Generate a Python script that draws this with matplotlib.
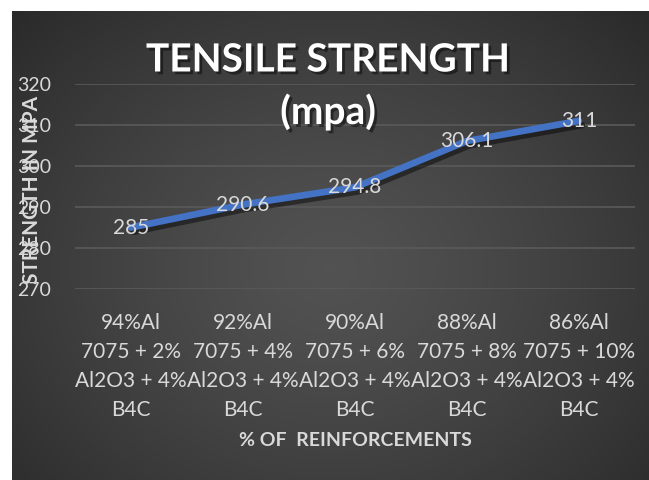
import numpy as np
import matplotlib
matplotlib.use("Agg")
import matplotlib.pyplot as plt
import matplotlib.patheffects as pe
from matplotlib.colors import LinearSegmentedColormap

# ---- data ----
categories = [
    "94%Al\n7075 + 2%\nAl2O3 + 4%\nB4C",
    "92%Al\n7075 + 4%\nAl2O3 + 4%\nB4C",
    "90%Al\n7075 + 6%\nAl2O3 + 4%\nB4C",
    "88%Al\n7075 + 8%\nAl2O3 + 4%\nB4C",
    "86%Al\n7075 + 10%\nAl2O3 + 4%\nB4C",
]
strength = [285, 290.6, 294.8, 306.1, 311]
data_labels = ["285", "290.6", "294.8", "306.1", "311"]
yticks = [270, 280, 290, 300, 310, 320]

title_line1 = "TENSILE STRENGTH"
title_line2 = "(mpa)"
xlabel = "% OF  REINFORCEMENTS"
ylabel = "STRENGTH IN MPA"

FONT = "Lato"
plt.rcParams["font.family"] = [FONT, "DejaVu Sans"]

W, H = 649, 480
fig = plt.figure(figsize=(W / 100, H / 100), dpi=100)
fig.patch.set_facecolor("white")

# background panel with radial gradient
bg = fig.add_axes([12 / W, 0, 1 - 12 / W, 1 - 11 / H])
yy, xx = np.mgrid[0:1:300j, 0:1:400j]
r = np.sqrt(((xx - 0.5) / 0.75) ** 2 + ((yy - 0.45) / 0.85) ** 2)
r = np.clip(r, 0, 1)
img = 1 - r ** 1.3
cmap = LinearSegmentedColormap.from_list("g", ["#262626", "#525252"])
bg.imshow(img, extent=[0, 1, 0, 1], aspect="auto", cmap=cmap, vmin=0, vmax=1, origin="lower")
bg.axis("off")

# plot area
ax = fig.add_axes([75 / W, 1 - 289 / H, 560 / W, 205 / H])
ax.set_facecolor("none")
x = np.arange(len(categories))
ax.set_xlim(-0.5, len(categories) - 0.5)
ax.set_ylim(270, 320)
ax.set_yticks(yticks)
ax.set_xticks(x)
ax.set_xticklabels(categories, linespacing=1.58, multialignment="center", fontsize=15)
ax.grid(axis="y", color="#5a5a5a", lw=1.2)
ax.set_axisbelow(True)
for s in ax.spines.values():
    s.set_visible(False)
ax.tick_params(axis="y", length=0, colors="#d9d9d9", labelsize=14, pad=17)
ax.tick_params(axis="x", length=0, colors="#d9d9d9", pad=17)

ax.plot(x, strength, color="#4472C4", lw=4.8, solid_capstyle="round",
        path_effects=[pe.SimpleLineShadow(offset=(2, -3), shadow_color="black", alpha=0.45),
                      pe.Normal()], zorder=3)
for xi, v, lab in zip(x, strength, data_labels):
    ax.text(xi, v, lab, ha="center", va="center", color="#d9d9d9", fontsize=15, zorder=5)

# axis titles
fig.text(32 / W, 1 - 190 / H, ylabel, rotation=90, ha="center", va="center",
         color="#d9d9d9", fontsize=15, fontweight="bold")
fig.text(355 / W, 1 - 441 / H, xlabel, ha="center", va="center",
         color="#d9d9d9", fontsize=14, fontweight="bold")

# chart title
shadow = [pe.SimplePatchShadow(offset=(2, -2), shadow_rgbFace="black", alpha=0.45), pe.Normal()]
fig.text(328 / W, 1 - 60 / H, title_line1, ha="center", va="center", color="white",
         fontsize=28, fontweight="bold", path_effects=shadow)
fig.text(328 / W, 1 - 112 / H, title_line2, ha="center", va="center", color="white",
         fontsize=28, fontweight="bold", path_effects=shadow)

fig.savefig("out.png", dpi=100)
